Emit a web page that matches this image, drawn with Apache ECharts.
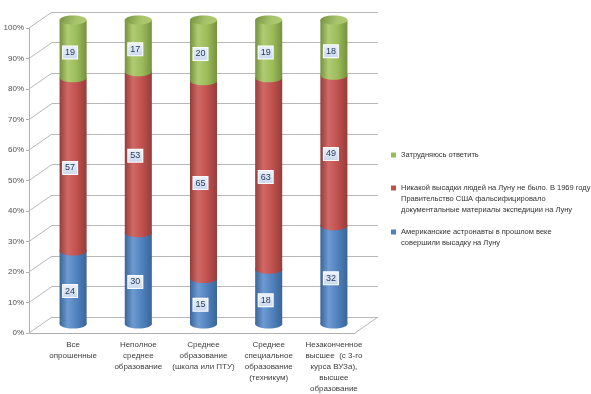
<!DOCTYPE html>
<html><head><meta charset="utf-8">
<script src="https://cdn.jsdelivr.net/npm/echarts@6/dist/echarts.min.js"></script>
<style>html,body{margin:0;padding:0;background:#fff;}#c{width:591px;height:394px;}</style>
</head><body><div id="c"></div>
<script>
const categories = ['Все\nопрошенные', 'Неполное\nсреднее\nобразование', 'Среднее\nобразование\n(школа или ПТУ)', 'Среднее\nспециальное\nобразование\n(техникум)', 'Незаконченное\nвысшее  (с 3-го\nкурса ВУЗа),\nвысшее\nобразование'];
const seriesNames = ['Американские астронавты в прошлом веке\nсовершили высадку на Луну', 'Никакой высадки людей на Луну не было. В 1969 году\nПравительство США фальсифицировало\nдокументальные материалы экспедиции на Луну', 'Затрудняюсь ответить'];
const landedValues = [24, 30, 15, 18, 32];
const fakedValues = [57, 53, 65, 63, 49];
const unsureValues = [19, 17, 20, 19, 18];
const yMin = 0, yMax = 100, yInterval = 10;

const colors = [
  {base:'#4f81bd', dark:'#3a6598', light:'#6e9ad2', cap:'#6d98cf'},
  {base:'#c0504d', dark:'#953d3b', light:'#d06966', cap:'#cf6a67'},
  {base:'#9bbb59', dark:'#76913f', light:'#b0cc73', cap:'#a9c56c'}
];
const allValues = [landedValues, fakedValues, unsureValues];
const totals = categories.map((c, i) => allValues.reduce((s, a) => s + a[i], 0));

// layout of pseudo-3D planes
const FL = 29, FT = 28, FW = 326, FH = 305, DX = 23, DY = -16;

function bodyGrad(c) {
  return new echarts.graphic.LinearGradient(0, 0, 1, 0, [
    {offset: 0, color: c.dark}, {offset: 0.3, color: c.light},
    {offset: 0.65, color: c.base}, {offset: 1, color: c.dark}]);
}

const stackSeries = allValues.map((vals, si) => {
  const data = vals.map((v, i) => {
    let start = 0;
    for (let k = 0; k < si; k++) start += allValues[k][i];
    return [i, start / totals[i] * 100, (start + v) / totals[i] * 100, v];
  });
  const c = colors[si];
  const isTop = si === allValues.length - 1;
  return {
    type: 'custom', name: seriesNames[si], xAxisIndex: 2, yAxisIndex: 2,
    itemStyle: {color: c.base},
    encode: {x: 0, y: [1, 2]},
    data: data,
    z: 10 + si,
    renderItem: function (params, api) {
      const ci = api.value(0);
      const pb = api.coord([ci, api.value(1)]);
      const pt = api.coord([ci, api.value(2)]);
      const w = api.size([1, 0])[0] * 0.415;
      const rx = w / 2, ry = 4.5;
      const x = pb[0];
      const fill = bodyGrad(c);
      const children = [
        {type: 'ellipse', shape: {cx: x, cy: pb[1], rx: rx, ry: ry}, style: {fill: fill}},
        {type: 'rect', shape: {x: x - rx, y: pt[1], width: w, height: pb[1] - pt[1]}, style: {fill: fill}}
      ];
      if (isTop) {
        children.push({type: 'ellipse', shape: {cx: x, cy: pt[1], rx: rx, ry: ry},
          style: {fill: new echarts.graphic.LinearGradient(0, 0, 1, 1, [
            {offset: 0, color: c.dark}, {offset: 0.6, color: c.cap}, {offset: 1, color: c.light}])}});
      }
      children.push({type: 'text', z2: 100, style: {
        text: String(api.value(3)), x: x - 3, y: (pb[1] + pt[1]) / 2 + 3.5,
        align: 'center', verticalAlign: 'middle', fontSize: 9, fontFamily: 'Liberation Sans',
        fill: '#243a5c', padding: [2, 2, 1, 2],
        backgroundColor: new echarts.graphic.LinearGradient(0, 0, 0, 1, [
          {offset: 0, color: '#eef3fa'}, {offset: 1, color: '#c9d8ee'}]),
        borderColor: '#ffffff', borderWidth: 1
      }});
      return {type: 'group', children: children};
    }
  };
});

const diagData = [];
for (let v = yMin; v <= yMax; v += yInterval) diagData.push([0, v]);
diagData.push([categories.length, 0]);

// icon should sit beside the first line: pad the text with blank lines above
function legendText(name) {
  const n = name.split('\n').length;
  return '\n'.repeat(n - 1) + name;
}
const legendIconY = [232, 188, 155];
const LH = 11;

const option = {
  animation: false,
  backgroundColor: '#ffffff',
  grid: [
    {left: FL, top: FT, width: FW, height: FH},
    {left: FL + DX, top: FT + DY, width: FW, height: FH},
    {left: FL + DX / 2, top: FT + DY / 2, width: FW, height: FH}
  ],
  xAxis: [
    {gridIndex: 0, type: 'value', min: 0, max: categories.length, axisLabel: {show: false}, axisTick: {show: false},
      splitLine: {show: false}, axisLine: {show: true, lineStyle: {color: '#b0b0b0'}}},
    {gridIndex: 1, type: 'value', min: 0, max: categories.length, show: false},
    {gridIndex: 2, type: 'category', data: categories, axisLine: {show: false}, axisTick: {show: false},
      axisLabel: {margin: 15, fontSize: 8, lineHeight: 11, color: '#404040', fontFamily: 'Liberation Sans', interval: 0}}
  ],
  yAxis: [
    {gridIndex: 0, type: 'value', min: yMin, max: yMax, interval: yInterval,
      axisLabel: {formatter: '{value}%', fontSize: 8, color: '#505050', margin: 5, fontFamily: 'Liberation Sans'},
      axisLine: {show: true, lineStyle: {color: '#b0b0b0'}},
      axisTick: {show: true, length: 3, lineStyle: {color: '#b0b0b0'}}, splitLine: {show: false}},
    {gridIndex: 1, type: 'value', min: yMin, max: yMax, interval: yInterval,
      axisLabel: {show: false}, axisLine: {show: false}, axisTick: {show: false},
      splitLine: {show: true, lineStyle: {color: '#b8b8b8', width: 1}}},
    {gridIndex: 2, type: 'value', min: yMin, max: yMax, show: false}
  ],
  legend: seriesNames.map((n, i) => {
    const lines = 2 * n.split('\n').length - 1;
    return {
      data: [n], orient: 'vertical', left: 391, top: legendIconY[i] - lines * LH / 2, padding: 0,
      itemWidth: 5, itemHeight: 5, icon: 'rect', selectedMode: false,
      formatter: legendText,
      textStyle: {fontSize: 7.5, lineHeight: LH, color: '#333333', fontFamily: 'Liberation Sans'}
    };
  }),
  series: [
    {type: 'custom', xAxisIndex: 0, yAxisIndex: 0, silent: true, data: diagData, z: 1,
      renderItem: function (params, api) {
        const p = api.coord([api.value(0), api.value(1)]);
        return {type: 'line', shape: {x1: p[0], y1: p[1], x2: p[0] + DX, y2: p[1] + DY},
          style: {stroke: '#b8b8b8', lineWidth: 1}};
      }}
  ].concat(stackSeries)
};
const chart = echarts.init(document.getElementById('c'), null, {renderer: 'canvas'});
chart.setOption(option);
</script></body></html>
